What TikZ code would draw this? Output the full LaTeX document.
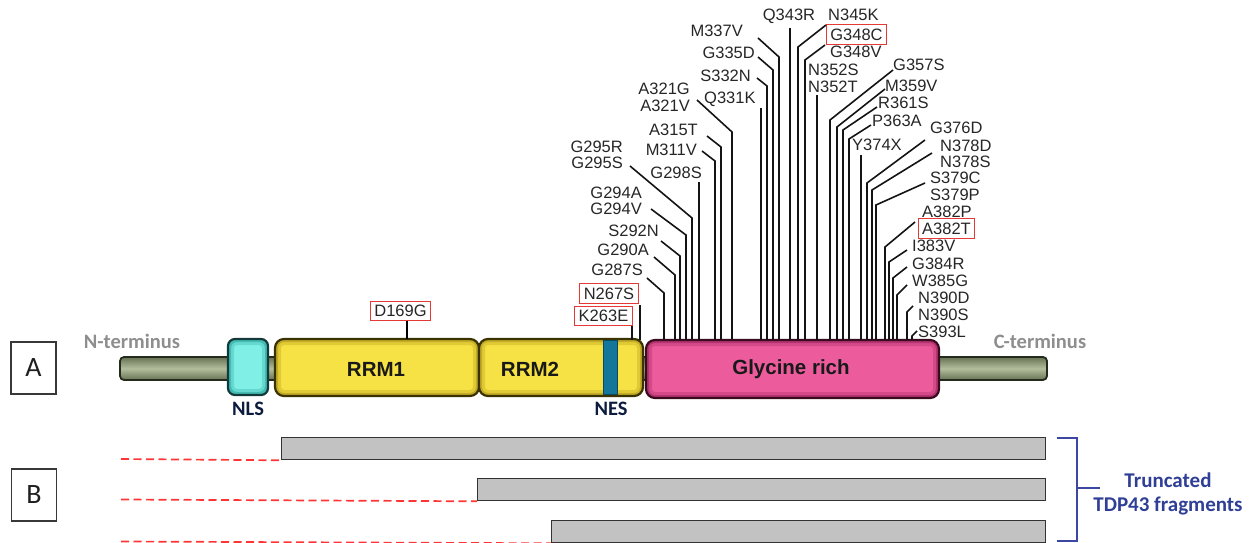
\documentclass[tikz,border=0pt]{standalone}
\usepackage{fontspec}
\setmainfont{Liberation Sans}
\newfontfamily\calib{Carlito}
\definecolor{labC}{HTML}{262626}
\definecolor{redC}{HTML}{E53935}
\definecolor{lineC}{HTML}{141414}
\definecolor{tubeD}{HTML}{667253}
\definecolor{tubeL}{HTML}{B2BE9C}
\definecolor{tubeR}{HTML}{252B1C}
\definecolor{yelF}{HTML}{F6E244}
\definecolor{yelI}{HTML}{B89E1E}
\definecolor{yelR}{HTML}{3A3300}
\definecolor{nlsF}{HTML}{80F0E6}
\definecolor{nlsI}{HTML}{35AFA8}
\definecolor{nlsR}{HTML}{123A3A}
\definecolor{nesF}{HTML}{13769A}
\definecolor{nesR}{HTML}{0A4A60}
\definecolor{pinkF}{HTML}{EC5C9C}
\definecolor{pinkI}{HTML}{A82A66}
\definecolor{pinkR}{HTML}{3A0A1E}
\definecolor{grayT}{HTML}{8E8E8E}
\definecolor{navyT}{HTML}{0D1B3E}
\definecolor{barC}{HTML}{C2C2C2}
\definecolor{barR}{HTML}{333333}
\definecolor{dashC}{HTML}{FF3535}
\definecolor{brC}{HTML}{3B47A0}
\definecolor{trT}{HTML}{2F3F96}
\begin{document}
\begin{tikzpicture}[x=1pt,y=-1pt,
  mut/.style={font=\fontsize{16.5}{18}\selectfont, text=labC, inner sep=0pt, text height=11.8pt, text depth=0pt},
  boxed/.style={mut, draw=redC, line width=1pt, inner xsep=4pt, inner ysep=3.8pt},
  mline/.style={line width=1.6pt, draw=lineC},
  dom/.style n args={3}{fill=#1, draw=#2, line width=2.2pt, rounded corners=9pt, inner sep=0pt,
     path picture={\draw[#3, opacity=.35, line width=12pt, rounded corners=9pt] (path picture bounding box.south west) rectangle (path picture bounding box.north east);
                   \draw[#3, opacity=.7, line width=6pt, rounded corners=9pt] (path picture bounding box.south west) rectangle (path picture bounding box.north east);}},
  tube/.style={top color=tubeD, bottom color=tubeD, middle color=tubeL, draw=tubeR, line width=1.8pt, rounded corners=4pt, inner sep=0pt},
  domtext/.style={font=\bfseries\fontsize{20.5}{22}\selectfont, text=black!90, inner sep=0pt},
  caltext/.style={font=\calib\bfseries\fontsize{20.5}{22}\selectfont, inner sep=0pt},
  lbox/.style={draw=black!78, line width=1.2pt, minimum width=45pt, minimum height=52pt, inner sep=0pt, font=\calib\fontsize{28}{30}\selectfont, text=black!88},
  bar/.style={fill=barC, draw=barR, line width=1.3pt, inner sep=0pt, minimum height=22pt, anchor=north west},
  dashline/.style={draw=dashC, line width=1.7pt, dash pattern=on 8pt off 4.5pt}
]
\useasboundingbox (0,0) rectangle (1251,543);

% ---------- Part A: protein domains ----------
\node[lbox] (boxA) at (33.5,368) {A};
\node[caltext, text=grayT] (nterm) at (132,341) {N-terminus};
\node[caltext, text=grayT] (cterm) at (1040,341) {C-terminus};

\node[tube, minimum width=927pt, minimum height=23pt] (bb) at (583.5,368.5) {};
\node[dom={nlsF}{nlsR}{nlsI}, rounded corners=7pt, minimum width=40pt, minimum height=56pt] (nls) at (248,367) {};
\node[dom={yelF}{yelR}{yelI}, minimum width=204pt, minimum height=57pt] (rrm1) at (377,367.5) {};
\node[dom={yelF}{yelR}{yelI}, minimum width=164pt, minimum height=57pt] (rrm2) at (561,367.5) {};
\node[fill=nesF, draw=nesR, line width=1pt, minimum width=14pt, minimum height=54pt, inner sep=0pt] (nes) at (610,367.5) {};
\node[dom={pinkF}{pinkR}{pinkI}, minimum width=293pt, minimum height=58pt] (gly) at (792.5,369) {};

\node[domtext] (trrm1) at (376,369) {RRM1};
\node[domtext] (trrm2) at (530,369) {RRM2};
\node[domtext] (tgly) at (791,369) {Glycine rich};
\node[caltext, text=navyT] (tnls) at (248,409) {NLS};
\node[caltext, text=navyT] (tnes) at (611,409) {NES};

% ---------- mutation labels ----------
\node[boxed] (d169) at (400.5,311) {D169G};
\coordinate (d169end) at (407,339);
\draw[line width=1.6pt, draw=black] (407,320.5) -- (d169end);

\node[boxed] (k263) at (603.5,316) {K263E};
\node[boxed] (n267) at (609,293.5) {N267S};
\node[mut, anchor=east] (g287) at (643,270) {G287S};
\node[mut, anchor=east] (g290) at (649,250) {G290A};
\node[mut, anchor=east] (s292) at (659,231) {S292N};
\node[mut, anchor=east] (g294a) at (642,193) {G294A};
\node[mut, anchor=east] (g294v) at (642,209) {G294V};
\node[mut, anchor=east] (g295r) at (623,147) {G295R};
\node[mut, anchor=east] (g295s) at (623,163) {G295S};
\node[mut, anchor=east] (g298) at (702,173) {G298S};
\node[mut, anchor=east] (m311) at (697,150) {M311V};
\node[mut, anchor=east] (a315) at (698,130) {A315T};
\node[mut, anchor=east] (a321g) at (690,89) {A321G};
\node[mut, anchor=east] (a321v) at (690,106) {A321V};
\node[mut, anchor=west] (q331) at (704,98) {Q331K};
\node[mut, anchor=east] (s332) at (751,76) {S332N};
\node[mut, anchor=east] (g335) at (755,53) {G335D};
\node[mut, anchor=east] (m337) at (743,31) {M337V};
\node[mut] (q343) at (789,15) {Q343R};
\node[mut, anchor=west] (n345) at (828,15) {N345K};
\node[boxed] (g348c) at (856.5,34.5) {G348C};
\node[mut, anchor=west] (g348v) at (830,52) {G348V};
\node[mut, anchor=west] (n352s) at (808,70) {N352S};
\node[mut, anchor=west] (n352t) at (808,87) {N352T};
\node[mut, anchor=west] (g357) at (893,65) {G357S};
\node[mut, anchor=west] (m359) at (885,86) {M359V};
\node[mut, anchor=west] (r361) at (878,103) {R361S};
\node[mut, anchor=west] (p363) at (872,121) {P363A};
\node[mut, anchor=west] (y374) at (852,145) {Y374X};
\node[mut, anchor=west] (g376) at (930,128) {G376D};
\node[mut, anchor=west] (n378d) at (940,146) {N378D};
\node[mut, anchor=west] (n378s) at (940,162) {N378S};
\node[mut, anchor=west] (s379c) at (930,178) {S379C};
\node[mut, anchor=west] (s379p) at (930,195) {S379P};
\node[mut, anchor=west] (a382p) at (922,212) {A382P};
\node[boxed] (a382t) at (946.5,228.5) {A382T};
\node[mut, anchor=west] (i383) at (912,246) {I383V};
\node[mut, anchor=west] (g384) at (912,264) {G384R};
\node[mut, anchor=west] (w385) at (912,281) {W385G};
\node[mut, anchor=west] (n390d) at (918,298) {N390D};
\node[mut, anchor=west] (n390s) at (918,315) {N390S};
\node[mut, anchor=west] (s393) at (918,332) {S393L};

% ---------- leader lines ----------
\foreach \xa/\ya/\xb/\yb in {
  647/278/664/293, 654/257/675/275, 661/241/680/256, 651/209/686/235,
  630/166/692/218, 702/151/715/161, 707/136/721/147, 697/100/732/132,
  757/78/767/86, 758/57/773/70, 758/38/779/57,
  826/25/798/47, 825/45/805/60,
  893/70/830/120, 885/89/837/127, 877/107/843/130, 871/125/849/139,
  925/140/867/183, 932/153/872/190, 925/183/876/205, 915/222/885/247,
  907/250/889/262, 907/267/893/278, 907/285/897/295, 913/306/907/312,
  917/331/912/336}
  {\draw[mline] (\xa,\ya) -- (\xb,\yb) -- (\xb,339.5);}
\foreach \xa/\ya in {632/326, 640/305, 699/182, 761/108, 790/28, 817/95, 861/155}
  {\draw[mline] (\xa,\ya) -- (\xa,339.5);}

% ---------- Part B: truncated fragments ----------
\node[lbox] (boxB) at (34,495) {B};
\node[bar, minimum width=764pt] (bar1) at (281,437) {};
\node[bar, minimum width=568pt] (bar2) at (477,478) {};
\node[bar, minimum width=494pt] (bar3) at (551,520) {};
\coordinate (d1) at (121,459);
\coordinate (d2) at (121,499.5);
\coordinate (d3) at (121,541.5);
\draw[dashline] (d1) -- (bar1.south west);
\draw[dashline] (d2) -- (bar2.south west);
\draw[dashline] (d3) -- (bar3.south west);

\coordinate (bt) at (1057,438);
\coordinate (bb2) at (1057,541);
\coordinate (btick) at (1100,488);
\draw[brC, line width=1.3pt] (bt) -- (1077,438) -- (1077,541) -- (bb2);
\draw[brC, line width=1.3pt] (1077,488) -- (btick);
\node[font=\calib\bfseries\fontsize{21}{24.5}\selectfont, text=trT, align=center, inner sep=0pt] (trunc) at (1168,494) {Truncated\\TDP43 fragments};
\end{tikzpicture}
\end{document}
